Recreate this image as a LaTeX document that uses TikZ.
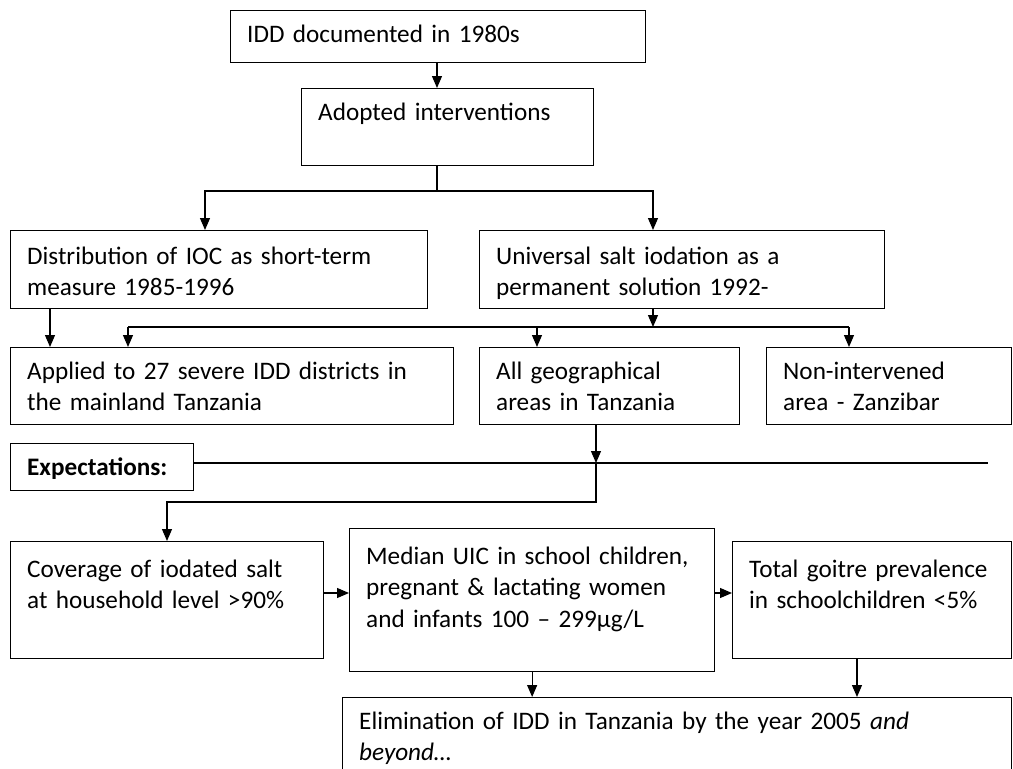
\documentclass[tikz,border=0pt]{standalone}
\usepackage{fontspec}
\setmainfont{Carlito}
\usetikzlibrary{arrows.meta,calc}
\tikzset{
  boxline/.style={draw,line width=1.3pt,rectangle,inner sep=0pt,anchor=north west},
  boxtext/.style={anchor=base west,inner sep=0pt,align=left,
    font=\fontsize{25.2}{31.5}\selectfont},
  arr/.style={line width=1.2pt,-{Triangle[length=12pt,width=10pt]}},
  conn/.style={line width=1.2pt}
}
\newcommand\FlowBox[7][32]{% [baseline], name, x, y, width, height, text
  \node[boxline,minimum width=#5pt,minimum height=#6pt] (#2) at (#3,#4) {};
  \node[boxtext,text width=#5pt] (#2-t) at ($(#2.north west)+(17,#1)$) {#7};
}

\begin{document}
\begin{tikzpicture}[x=1pt,y=-1pt] % IDD flow chart

\useasboundingbox (0,0) rectangle (1013,769);
\clip (0,0) rectangle (1013,769);
% boxes
\FlowBox{idd}{230}{10}{415}{52}{IDD documented in 1980s}
\FlowBox{adopt}{301}{88}{292}{77}{Adopted interventions}
\FlowBox[34]{ioc}{10}{230}{417}{78}{Distribution of IOC as short-term\\measure 1985-1996}
\FlowBox[34]{usi}{479}{230}{405}{78}{Universal salt iodation as a\\permanent solution 1992-}
\FlowBox{applied}{10}{347}{443}{77}{Applied to 27 severe IDD districts in\\the mainland Tanzania}
\FlowBox{allgeo}{479}{347}{260}{77}{All geographical\\areas in Tanzania}
\FlowBox{nonint}{766}{347}{245}{77}{Non-intervened\\area - Zanzibar}
\FlowBox{expect}{10}{443}{183}{47}{\bfseries Expectations:}
\FlowBox[36]{cover}{10}{541}{313}{117}{Coverage of iodated salt\\at household level >90\%}
\FlowBox[36]{median}{349}{528}{365}{143}{Median UIC in school children,\\pregnant \& lactating women\\and infants 100 -- 299µg/L}
\FlowBox[36]{goitre}{732}{541}{279}{117}{Total goitre prevalence\\in schoolchildren <5\%}
\FlowBox{elim}{342}{697}{669}{100}{Elimination of IDD in Tanzania by the year 2005 \textit{and}\\\textit{beyond…}}

% top split
\coordinate (split) at (437,191);
\coordinate (splitL) at (205,191);
\coordinate (splitR) at (653,191);
\draw[arr] (idd.south -| split) -- (adopt.north -| split);
\draw[arr] (adopt.south -| split) |- (splitL) -- (splitL |- ioc.north);
\draw[arr] (split) -| (usi.north -| splitR);

% second split
\coordinate (hub) at (653,327);
\draw[arr] (usi.south -| hub) -- (hub);
\foreach \x/\b in {128/applied,537/allgeo,849/nonint}{
  \coordinate (h\b) at (\x,327);
  \draw[arr] (h\b) -- (h\b |- \b.north);
}
\draw[conn] (happlied) -- (hnonint);
\draw[arr] ([xshift=40pt]ioc.south west) -- ([xshift=40pt]applied.north west);

% expectations
\coordinate (exline) at (988,463);
\coordinate (down) at (596,463);
\coordinate (turn) at (596,502);
\draw[conn] (expect.east |- exline) -- (exline);
\draw[arr] (allgeo.south -| down) -- (down);
\draw[arr] (down) -- (turn) -| ([xshift=157pt]cover.north west);

% outcomes
\coordinate (mid) at (0,593);
\coordinate (colB) at (857,0);
\draw[arr] (cover.east |- mid) -- (median.west |- mid);
\draw[arr] (median.east |- mid) -- (goitre.west |- mid);
\draw[arr] (median.south) -- (median.south |- elim.north);
\draw[arr] (goitre.south -| colB) -- (elim.north -| colB);
\end{tikzpicture}
\end{document}
